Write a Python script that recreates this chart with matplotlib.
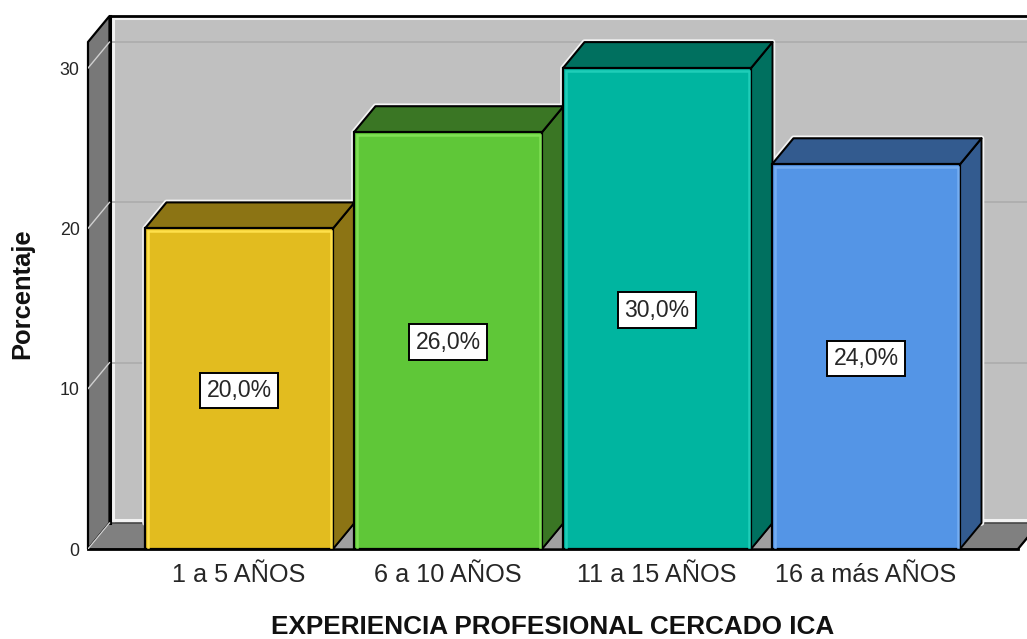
import matplotlib
matplotlib.use("Agg")
import matplotlib.pyplot as plt

# Data
categories = ["1 a 5 AÑOS", "6 a 10 AÑOS", "11 a 15 AÑOS", "16 a más AÑOS"]
percentages = [20.0, 26.0, 30.0, 24.0]
value_labels = ["20,0%", "26,0%", "30,0%", "24,0%"]
y_ticks = [0, 10, 20, 30]

# Styles: front face, side/top face, inner bevel
front_colors = ["#E2BC1F", "#5FC738", "#00B5A0", "#5495E6"]
side_colors = ["#8C7414", "#3A7624", "#00705F", "#335B8F"]
bevel_colors = ["#FFE04A", "#7FE055", "#1FCDB8", "#74ADF2"]
WALL = "#C0C0C0"
SIDE_WALL = "#787878"
FLOOR = "#808080"
INK = "#000000"
TEXT = "#262626"

W, H = 1027, 639
PX_PER_CAT = 209.0
PX_PER_UNIT = 16.03
X0_PX = 239.0
DEPTH_X = 21.5 / PX_PER_CAT
DEPTH_Y = 26.0 / PX_PER_UNIT
BAR_W = 188.0 / PX_PER_CAT

plt.rcParams["font.family"] = ["Liberation Sans", "DejaVu Sans"]
fig = plt.figure(figsize=(W / 100, H / 100), dpi=100, facecolor="white")
ax = fig.add_axes([88 / W, (H - 549) / H, (W - 88) / W, (549 - 16) / H])
x_lo = (88 - X0_PX) / PX_PER_CAT
x_hi = (W - X0_PX) / PX_PER_CAT
y_hi = (549 - 16) / PX_PER_UNIT
ax.set_xlim(x_lo, x_hi)
ax.set_ylim(0, y_hi)
for s in ax.spines.values():
    s.set_visible(False)
ax.patch.set_visible(False)

wall_x = x_lo + DEPTH_X
bevel_x = wall_x + 3 / PX_PER_CAT
bevel_y = 3 / PX_PER_UNIT

# Back wall with its pale inner edge
ax.fill([wall_x, x_hi, x_hi, wall_x], [DEPTH_Y, DEPTH_Y, y_hi, y_hi],
        fc=WALL, ec="none", zorder=1)
ax.plot([bevel_x, bevel_x, x_hi], [DEPTH_Y, y_hi - bevel_y / 2, y_hi - bevel_y / 2],
        color="#F2F2F2", lw=2.2, zorder=1.1)
ax.plot([bevel_x, x_hi], [DEPTH_Y + bevel_y, DEPTH_Y + bevel_y],
        color="#F2F2F2", lw=2.2, zorder=1.1)

# Side wall and floor
ax.fill([x_lo, wall_x, wall_x, x_lo], [0, DEPTH_Y, y_hi, y_hi - DEPTH_Y],
        fc=SIDE_WALL, ec=INK, lw=1.6, zorder=2, clip_on=False)
floor_end = x_hi - 9 / PX_PER_CAT
ax.fill([x_lo, floor_end, floor_end + DEPTH_X, wall_x], [0, 0, DEPTH_Y, DEPTH_Y],
        fc=FLOOR, ec="#3A3A3A", lw=1.0, zorder=2)
ax.plot([x_lo, floor_end], [0, 0], color=INK, lw=2.0, zorder=2.1, clip_on=False)
ax.plot([floor_end, floor_end + DEPTH_X], [0, DEPTH_Y], color=INK, lw=1.6, zorder=2.1)
ax.plot([wall_x, x_hi], [y_hi, y_hi], color=INK, lw=2.0, zorder=2.1, clip_on=False)
ax.plot([wall_x, wall_x], [DEPTH_Y, y_hi], color=INK, lw=2.2, zorder=2.1, clip_on=False)

# Gridlines across the back wall and down the side wall
for t in y_ticks[1:]:
    ax.plot([wall_x, x_hi], [t + DEPTH_Y, t + DEPTH_Y], color="#ACACAC", lw=1.2, zorder=1.5)
for t in y_ticks:
    ax.plot([x_lo, wall_x], [t, t + DEPTH_Y], color="#D0D0D0", lw=1.0, zorder=2.5)

# Bars as extruded boxes, drawn left to right
for i, (v, fc, sc, bc, lab) in enumerate(zip(percentages, front_colors, side_colors,
                                             bevel_colors, value_labels)):
    left, right = i - BAR_W / 2, i + BAR_W / 2
    back_l, back_r = left + DEPTH_X, right + DEPTH_X
    top = v + DEPTH_Y
    z = 3 + i

    # soft white glow behind the box outline, kept under every bar
    ax.fill([left, left, back_l, back_r, back_r, left],
            [DEPTH_Y, v, top, top, DEPTH_Y, DEPTH_Y],
            fc="white", ec="#F4F4F4", lw=4.0, joinstyle="round", zorder=2.8)

    # lighter floor patch in the gap between neighbouring bars
    if i < len(percentages) - 1:
        ax.fill([right, back_r, back_r], [0, DEPTH_Y, 0], fc="#A0A0A0", ec=INK, lw=1.0, zorder=z)

    ax.fill([right, back_r, back_r, right], [0, DEPTH_Y, top, v],
            fc=sc, ec=INK, lw=1.4, joinstyle="round", zorder=z)
    ax.fill([left, back_l, back_r, right], [v, top, top, v],
            fc=sc, ec=INK, lw=1.5, joinstyle="round", zorder=z)
    ax.bar(i, v, width=BAR_W, color=fc, edgecolor=INK, linewidth=1.6,
           zorder=z + 0.1, clip_on=False)

    # lighter inner bevel on the front face
    inset_x = 2.5 / PX_PER_CAT
    inset_y = 2.5 / PX_PER_UNIT
    ax.plot([left + inset_x, left + inset_x, right - inset_x, right - inset_x],
            [inset_y, v - inset_y, v - inset_y, inset_y],
            color=bc, lw=1.8, zorder=z + 0.2, solid_joinstyle="miter")

    ax.text(i, v / 2 - 0.1, lab, ha="center", va="center", fontsize=16.6, color=TEXT,
            zorder=20, bbox=dict(boxstyle="square,pad=0.27", fc="white", ec=INK, lw=1.4))

# Axes text
ax.set_xticks(range(len(categories)), categories, fontsize=18.2, color=TEXT)
ax.set_yticks(y_ticks, [str(t) for t in y_ticks], fontsize=12.8, color=TEXT)
ax.tick_params(axis="both", length=0)
ax.tick_params(axis="x", pad=10)
ax.tick_params(axis="y", pad=6)
ax.set_xlabel("EXPERIENCIA PROFESIONAL CERCADO ICA", fontsize=18.8, fontweight="bold",
              color="#111111")
ax.xaxis.set_label_coords((553 - 88) / (W - 88), (549 - 615) / (549 - 16))
ax.set_ylabel("Porcentaje", fontsize=18.4, fontweight="bold", color="#111111")
ax.yaxis.set_label_coords((34 - 88) / (W - 88), (549 - 294) / (549 - 16))

fig.savefig("out.png", dpi=100, facecolor="white")
